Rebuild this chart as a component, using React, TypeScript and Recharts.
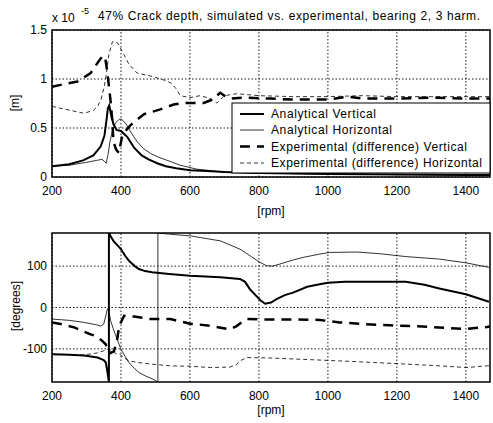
import { LineChart, Line, XAxis, YAxis, ReferenceArea, ReferenceLine } from "recharts";

const FONT = "'Liberation Sans', Arial, Helvetica, sans-serif";

const rpmTicks = [200, 400, 600, 800, 1000, 1200, 1400];
const ampTicks = [0, 0.5, 1, 1.5];
const phaseTicks = [-100, 0, 100];

// amplitude (x 1e-5 m) vs rpm
const avRpm = [200, 250, 290, 320, 341, 352, 358, 362, 366, 371, 378, 387, 400, 418, 438, 460, 480, 505, 530, 560, 600, 650, 700, 800, 900, 1000, 1200, 1400, 1470];
const avAmp = [0.11, 0.13, 0.17, 0.22, 0.31, 0.42, 0.58, 0.7, 0.73, 0.64, 0.54, 0.48, 0.47, 0.41, 0.3, 0.22, 0.18, 0.14, 0.11, 0.09, 0.07, 0.06, 0.05, 0.04, 0.035, 0.03, 0.025, 0.02, 0.02];

const ahRpm = [200, 250, 300, 330, 345, 352, 357, 362, 368, 375, 384, 395, 402, 415, 430, 447, 465, 486, 510, 534, 572, 620, 700, 800, 1000, 1200, 1470];
const ahAmp = [0.11, 0.12, 0.15, 0.17, 0.18, 0.16, 0.14, 0.22, 0.36, 0.47, 0.55, 0.59, 0.59, 0.54, 0.45, 0.36, 0.29, 0.24, 0.2, 0.17, 0.12, 0.08, 0.05, 0.04, 0.03, 0.025, 0.02];

const evRpm = [200, 225, 274, 312, 335, 348, 355, 360, 366, 370, 375, 378, 386, 394, 404, 428, 466, 514, 553, 582, 640, 665, 688, 700, 720, 760, 832, 900, 1000, 1060, 1100, 1200, 1300, 1400, 1470];
const evAmp = [0.92, 0.94, 0.975, 1.06, 1.18, 1.24, 1.2, 1.08, 0.9, 0.77, 0.57, 0.36, 0.28, 0.245, 0.43, 0.53, 0.64, 0.69, 0.74, 0.755, 0.755, 0.79, 0.86, 0.83, 0.8, 0.81, 0.8, 0.79, 0.79, 0.82, 0.8, 0.8, 0.81, 0.8, 0.8];

const ehRpm = [200, 240, 293, 320, 332, 342, 350, 356, 365, 375, 390, 404, 423, 447, 486, 524, 545, 560, 572, 600, 630, 660, 678, 700, 736, 800, 900, 1000, 1100, 1200, 1300, 1400, 1470];
const ehAmp = [0.72, 0.69, 0.65, 0.68, 0.72, 0.79, 0.9, 1.01, 1.25, 1.38, 1.37, 1.28, 1.15, 1.06, 1.03, 0.99, 0.96, 0.9, 0.83, 0.81, 0.83, 0.8, 0.755, 0.83, 0.85, 0.83, 0.82, 0.82, 0.83, 0.82, 0.82, 0.82, 0.82];

// phase (degrees) vs rpm
const pavRpm = [200, 250, 293, 332, 350, 356, 361, 365, 365, 370, 378, 390, 400, 412, 423, 440, 452, 470, 490, 540, 601, 688, 745, 760, 774, 790, 805, 818, 835, 851, 875, 899, 940, 976, 1000, 1050, 1100, 1150, 1226, 1280, 1323, 1400, 1467];
const pavDeg = [-113, -114, -116, -121, -127, -133, -157, -180, 180, 172, 161, 150, 141, 125, 113, 100, 93, 88, 85, 81, 77, 73, 69, 62, 44, 30, 17, 9, 12, 20, 30, 36, 50, 56, 60, 62, 62, 62, 62, 55, 46, 32, 14];

const pahRpm = [200, 250, 293, 330, 341, 350, 356, 361, 364, 370, 378, 388, 400, 412, 423, 440, 452, 470, 490, 507, 507, 543, 601, 688, 745, 774, 803, 822, 840, 861, 900, 928, 976, 1005, 1084, 1150, 1226, 1323, 1400, 1467];
const pahDeg = [-28, -31, -36, -42, -45, -40, -20, -3, -5, -32, -52, -75, -101, -118, -133, -148, -157, -165, -172, -180, 180, 177, 173, 161, 141, 125, 109, 101, 100, 105, 115, 121, 129, 133, 134, 130, 123, 117, 108, 97];

const pevRpm = [200, 225, 264, 312, 327, 345, 356, 361, 370, 380, 389, 395, 409, 438, 486, 543, 601, 659, 716, 735, 750, 765, 832, 900, 976, 1034, 1100, 1180, 1275, 1400, 1461, 1470];
const pevDeg = [-36, -40, -48, -65, -69, -80, -89, -105, -110, -105, -77, -44, -20, -22, -28, -28, -39, -44, -53, -45, -36, -28, -29, -29, -30, -36, -40, -43, -46, -52, -47, -46];

const pehRpm = [200, 250, 290, 330, 356, 365, 375, 386, 396, 410, 423, 450, 490, 543, 601, 659, 716, 735, 745, 765, 832, 948, 1034, 1210, 1325, 1400, 1461, 1470];
const pehDeg = [-113, -114, -115, -110, -103, -100, -105, -112, -113, -122, -129, -133, -137, -141, -142, -145, -144, -138, -129, -121, -122, -126, -129, -136, -141, -145, -141, -141];

const zip = (xs: number[], ys: number[]) => xs.map((x, i) => ({ x, y: ys[i] }));

const styles = [
  { name: "Analytical Vertical", width: 2, dash: undefined },
  { name: "Analytical Horizontal", width: 0.8, dash: undefined },
  { name: "Experimental (difference) Vertical", width: 2.5, dash: "10 7" },
  { name: "Experimental (difference) Horizontal", width: 0.8, dash: "4 3" },
];
const legendW = [105, 121, 196, 211];

const ampData = [zip(avRpm, avAmp), zip(ahRpm, ahAmp), zip(evRpm, evAmp), zip(ehRpm, ehAmp)];
const phaseData = [zip(pavRpm, pavDeg), zip(pahRpm, pahDeg), zip(pevRpm, pevDeg), zip(pehRpm, pehDeg)];

const tick = { fill: "#000", fontSize: 12, fontFamily: FONT };
const grid = { stroke: "#000", strokeDasharray: "1.5 2", strokeWidth: 0.9 };

function Panel({ data, yDomain, yTicks, top, plotH, height }: { data: { x: number; y: number }[][]; yDomain: [number, number]; yTicks: number[]; top: number; plotH: number; height: number }) {
  return (
    <LineChart
      width={493}
      height={height}
      margin={{ top, right: 3, left: 0, bottom: height - top - 20 - plotH }}
    >
      {rpmTicks.map((t) => (
        <ReferenceLine key={"x" + t} x={t} {...grid} />
      ))}
      {yTicks.map((t) => (
        <ReferenceLine key={"y" + t} y={t} {...grid} />
      ))}
      <XAxis
        type="number"
        dataKey="x"
        domain={[200, 1470]}
        ticks={rpmTicks}
        allowDataOverflow
        height={20}
        tick={tick}
        tickLine={false}
        axisLine={false}
        tickMargin={3}
      />
      <YAxis
        type="number"
        dataKey="y"
        domain={yDomain}
        ticks={yTicks}
        allowDataOverflow
        width={52}
        tick={tick}
        tickLine={false}
        axisLine={false}
        tickSize={3}
        tickMargin={2}
      />
      {data.map((d, i) => (
        <Line
          key={styles[i].name}
          data={d}
          dataKey="y"
          type="linear"
          stroke="#000"
          strokeWidth={styles[i].width}
          strokeDasharray={styles[i].dash}
          dot={false}
          activeDot={false}
          isAnimationActive={false}
        />
      ))}
      <ReferenceArea x1={200} x2={1470} y1={yDomain[0]} y2={yDomain[1]} fill="none" stroke="#000" strokeWidth={1.5} />
    </LineChart>
  );
}

export default function App() {
  return (
    <div style={{ position: "absolute", left: 0, top: 0, width: 493, height: 423, background: "#fff" }}>
      <div style={{ position: "absolute", left: 0, top: 0, width: 493, height: 200 }}>
        <Panel data={ampData} yDomain={[0, 1.5]} yTicks={ampTicks} top={30} plotH={147} height={200} />
      </div>
      <div style={{ position: "absolute", left: 0, top: 200, width: 493, height: 223 }}>
        <Panel data={phaseData} yDomain={[-180, 180]} yTicks={phaseTicks} top={33} plotH={149} height={223} />
      </div>
      <svg width={493} height={423} style={{ position: "absolute", left: 0, top: 0, pointerEvents: "none" }} fontFamily={FONT} fill="#000">
        <text x={52} y={22} fontSize={12}>x 10</text>
        <text x={81} y={14} fontSize={9}>-5</text>
        <text x={98} y={20} fontSize={12} textLength={382} lengthAdjust="spacing">
          47% Crack depth, simulated vs. experimental, bearing 2, 3 harm.
        </text>
        <text x={271} y={215} fontSize={12} textAnchor="middle">[rpm]</text>
        <text x={271} y={414} fontSize={12} textAnchor="middle">[rpm]</text>
        <text transform="translate(19 103) rotate(-90)" fontSize={12} textAnchor="middle">[m]</text>
        <text transform="translate(20 306) rotate(-90)" fontSize={12} textAnchor="middle">[degrees]</text>
        <rect x={232} y={103} width={258} height={70} fill="#fff" stroke="#000" strokeWidth={1} />
        {styles.map((s, i) => {
          const y = [114, 130, 146.5, 163][i];
          return (
            <g key={s.name}>
              <line x1={240} x2={264} y1={y} y2={y} stroke="#000" strokeWidth={s.width} strokeDasharray={s.dash} />
              <text x={271} y={y + 4} fontSize={12} textLength={legendW[i]} lengthAdjust="spacing">{s.name}</text>
            </g>
          );
        })}
      </svg>
    </div>
  );
}
